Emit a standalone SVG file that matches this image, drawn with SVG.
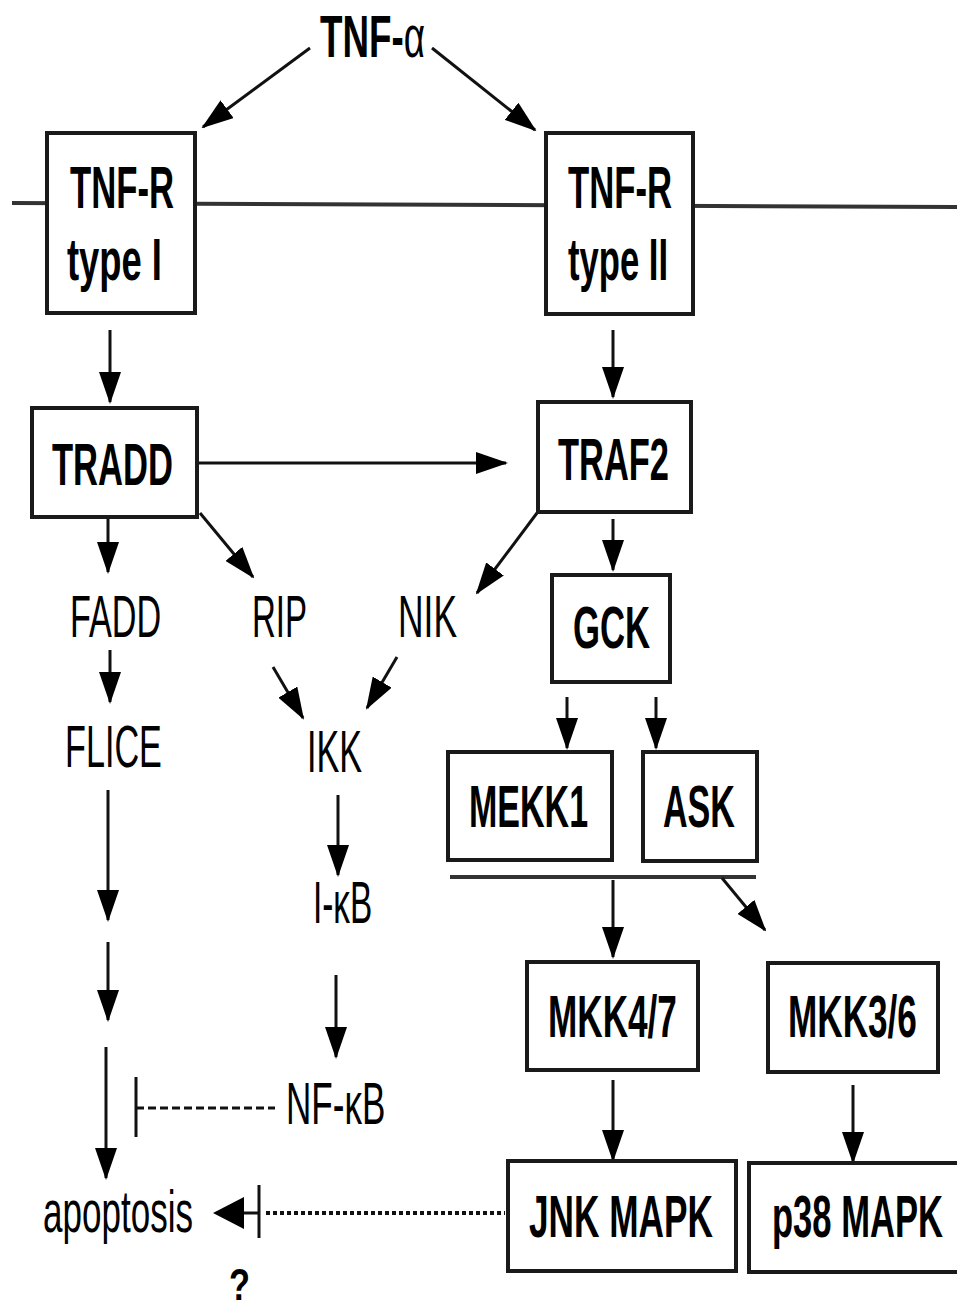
<svg xmlns="http://www.w3.org/2000/svg" width="957" height="1308" viewBox="0 0 957 1308">
<style>
.box{fill:#fff;stroke:#1a1a1a;stroke-width:4}
.b{font-family:"Liberation Sans",Arial,sans-serif;font-weight:bold;font-size:60px;fill:#000}
.r{font-family:"Liberation Sans",Arial,sans-serif;font-size:60px;fill:#000}
.ln{stroke:#111;stroke-width:3;fill:none}
.arr{stroke:#111;stroke-width:3;fill:none;marker-end:url(#ah)}
</style>
<defs>
<marker id="ah" markerUnits="userSpaceOnUse" markerWidth="32" markerHeight="22" refX="30" refY="11" orient="auto">
<path d="M0,0 L32,11 L0,22 z" fill="#000"/>
</marker>
</defs>
<rect width="957" height="1308" fill="#fff"/>
<g id="membrane"><line x1="12" y1="203" x2="957" y2="207" stroke="#333" stroke-width="4"/></g>
<g id="connectors">
<line class="arr" x1="310" y1="48" x2="203" y2="127"/>
<line class="arr" x1="432" y1="48" x2="535" y2="130"/>
<line class="arr" x1="110" y1="330" x2="110" y2="402"/>
<line class="arr" x1="613" y1="330" x2="613" y2="397"/>
<line class="arr" x1="197" y1="463" x2="506" y2="463"/>
<line class="arr" x1="108" y1="517" x2="108" y2="572"/>
<line class="arr" x1="200" y1="513" x2="253" y2="577"/>
<line class="arr" x1="537" y1="513" x2="477" y2="593"/>
<line class="arr" x1="613" y1="519" x2="613" y2="570"/>
<line class="arr" x1="110" y1="650" x2="110" y2="702"/>
<line class="arr" x1="273" y1="667" x2="303" y2="718"/>
<line class="arr" x1="397" y1="657" x2="367" y2="708"/>
<line class="arr" x1="567" y1="697" x2="567" y2="748"/>
<line class="arr" x1="656" y1="697" x2="656" y2="748"/>
<line x1="450" y1="877" x2="756" y2="877" stroke="#333" stroke-width="4"/>
<line class="arr" x1="613" y1="880" x2="613" y2="957"/>
<line class="arr" x1="722" y1="878" x2="765" y2="930"/>
<line class="arr" x1="108" y1="790" x2="108" y2="920"/>
<line class="arr" x1="108" y1="942" x2="108" y2="1020"/>
<line class="arr" x1="106" y1="1047" x2="106" y2="1178"/>
<line class="arr" x1="338" y1="795" x2="338" y2="875"/>
<line class="arr" x1="336" y1="975" x2="336" y2="1057"/>
<line class="arr" x1="613" y1="1080" x2="613" y2="1160"/>
<line class="arr" x1="853" y1="1085" x2="853" y2="1162"/>
<line class="ln" x1="136" y1="1077" x2="136" y2="1137"/>
<line class="ln" x1="136" y1="1108" x2="275" y2="1108" stroke-dasharray="8 4"/>
<line x1="266" y1="1213" x2="505" y2="1213" stroke="#111" stroke-width="4" stroke-dasharray="4 3"/>
<line class="ln" x1="259" y1="1185" x2="259" y2="1238"/>
<line class="ln" x1="240" y1="1213" x2="259" y2="1213"/>
<path d="M213,1213 L244,1197 L244,1229 z" fill="#000"/>
</g>
<g id="tnf-alpha"><text class="b" transform="translate(320,57) scale(0.613,1)">TNF-<tspan font-weight="normal">α</tspan></text></g>
<g id="tnfr1"><rect class="box" x="47" y="133" width="148" height="180"/>
<text class="b" transform="translate(70,208) scale(0.578,1)">TNF-R</text>
<text class="b" transform="translate(67,280) scale(0.606,1)">type I</text></g>
<g id="tnfr2"><rect class="box" x="546" y="133" width="147" height="181"/>
<text class="b" transform="translate(568,208) scale(0.578,1)">TNF-R</text>
<text class="b" transform="translate(568,280) scale(0.577,1)">type II</text></g>
<g id="tradd"><rect class="box" x="32" y="408" width="165" height="109"/>
<text class="b" transform="translate(52,485) scale(0.576,1)">TRADD</text></g>
<g id="traf2"><rect class="box" x="538" y="402" width="153" height="110"/>
<text class="b" transform="translate(558,480) scale(0.574,1)">TRAF2</text></g>
<g id="gck"><rect class="box" x="552" y="575" width="118" height="107"/>
<text class="b" transform="translate(573,648) scale(0.578,1)">GCK</text></g>
<g id="mekk1"><rect class="box" x="448" y="752" width="164" height="108"/>
<text class="b" transform="translate(469,827) scale(0.567,1)">MEKK1</text></g>
<g id="ask"><rect class="box" x="643" y="752" width="114" height="109"/>
<text class="b" transform="translate(663,827) scale(0.568,1)">ASK</text></g>
<g id="mkk47"><rect class="box" x="527" y="962" width="171" height="108"/>
<text class="b" transform="translate(548,1037) scale(0.586,1)">MKK4/7</text></g>
<g id="mkk36"><rect class="box" x="768" y="963" width="170" height="109"/>
<text class="b" transform="translate(788,1037) scale(0.586,1)">MKK3/6</text></g>
<g id="jnk"><rect class="box" x="508" y="1161" width="228" height="110"/>
<text class="b" transform="translate(529,1237) scale(0.587,1)">JNK MAPK</text></g>
<g id="p38"><rect class="box" x="749" y="1163" width="212" height="109"/>
<text class="b" transform="translate(772,1237) scale(0.576,1)">p38 MAPK</text></g>
<g id="fadd"><text class="r" transform="translate(70,637) scale(0.57,1)">FADD</text></g>
<g id="rip"><text class="r" transform="translate(252,637) scale(0.55,1)">RIP</text></g>
<g id="nik"><text class="r" transform="translate(398,637) scale(0.59,1)">NIK</text></g>
<g id="flice"><text class="r" transform="translate(65,767) scale(0.57,1)">FLICE</text></g>
<g id="ikk"><text class="r" transform="translate(307,772) scale(0.57,1)">IKK</text></g>
<g id="ikb"><text class="r" transform="translate(313,923) scale(0.556,1)">I-κB</text></g>
<g id="nfkb"><text class="r" transform="translate(286,1124) scale(0.585,1)">NF-κB</text></g>
<g id="apoptosis"><text class="r" transform="translate(43,1232) scale(0.584,1)">apoptosis</text></g>
<g id="question"><text class="b" style="font-size:44px" transform="translate(229,1300) scale(0.78,1)">?</text></g>
</svg>
